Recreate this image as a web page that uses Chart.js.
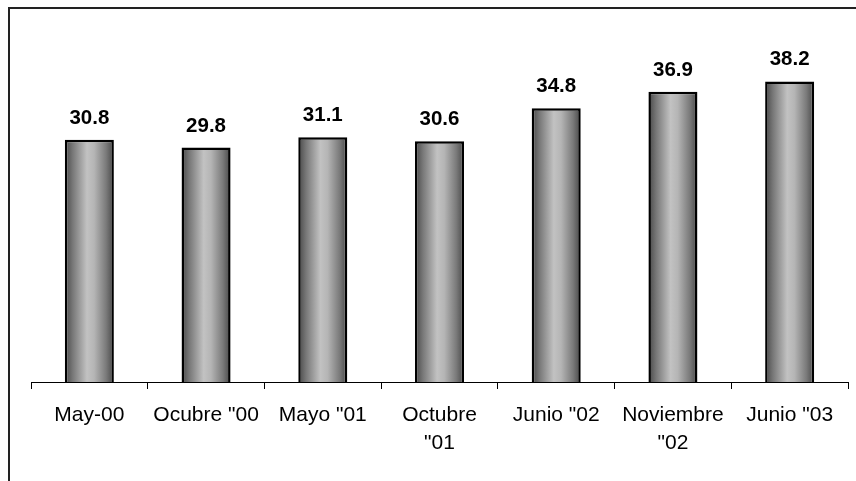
<!DOCTYPE html>
<html>
<head>
<meta charset="utf-8">
<script src="https://cdn.jsdelivr.net/npm/chart.js@4"></script>
<style>
  html, body { margin: 0; padding: 0; background: #fff; }
  #wrap { width: 856px; height: 481px; }
</style>
</head>
<body>
<div id="wrap"><canvas id="chart" width="856" height="481"></canvas></div>
<script>
// datos
const categories = ['May-00', 'Ocubre "00', 'Mayo "01', ['Octubre', '"01'], 'Junio "02', ['Noviembre', '"02'], 'Junio "03'];
const values = [30.8, 29.8, 31.1, 30.6, 34.8, 36.9, 38.2];

// marco exterior (solo se ve arriba e izquierda)
const framePlugin = {
    id: 'frame',
    beforeDraw(chart) {
        const ctx = chart.ctx;
        ctx.save();
        ctx.strokeStyle = '#222';
        ctx.lineWidth = 2;
        ctx.strokeRect(9, 8, 900, 600);
        ctx.restore();
    }
};

// etiquetas de valor sobre las barras
const valueLabels = {
    id: 'valueLabels',
    afterDatasetsDraw(chart) {
        const ctx = chart.ctx;
        const meta = chart.getDatasetMeta(0);
        ctx.save();
        ctx.font = 'bold 20.5px "Liberation Sans", Arial, sans-serif';
        ctx.fillStyle = '#000';
        ctx.textAlign = 'center';
        ctx.textBaseline = 'alphabetic';
        meta.data.forEach((bar, i) => {
            ctx.fillText(values[i].toFixed(1), bar.x, bar.y - 16);
        });
        ctx.restore();
    }
};

function barGradient(context) {
    const chart = context.chart;
    if (!chart.chartArea || !chart.scales.x) return '#999';
    const cx = chart.scales.x.getPixelForValue(context.dataIndex);
    const half = 24;
    const g = chart.ctx.createLinearGradient(cx - half, 0, cx + half, 0);
    g.addColorStop(0, '#4a4a4a');
    g.addColorStop(0.15, '#777');
    g.addColorStop(0.45, '#c2c2c2');
    g.addColorStop(0.6, '#b5b5b5');
    g.addColorStop(0.85, '#7a7a7a');
    g.addColorStop(1, '#4a4a4a');
    return g;
}

new Chart(document.getElementById('chart'), {
    type: 'bar',
    data: {
        labels: categories,
        datasets: [{
            data: values,
            backgroundColor: barGradient,
            borderColor: '#000',
            borderWidth: 2.5,
            borderSkipped: 'bottom',
            barPercentage: 0.42,
            categoryPercentage: 1
        }]
    },
    options: {
        responsive: false,
        animation: false,
        layout: { padding: { top: 28, left: 31, right: 8, bottom: 0 } },
        plugins: {
            legend: { display: false },
            tooltip: { enabled: false }
        },
        scales: {
            x: {
                grid: {
                    offset: true,
                    drawOnChartArea: false,
                    drawTicks: true,
                    tickLength: 7,
                    color: '#000'
                },
                border: { color: '#000', width: 1 },
                ticks: {
                    color: '#000',
                    padding: 13,
                    maxRotation: 0,
                    autoSkip: false,
                    font: { family: '"Liberation Sans", Arial, sans-serif', size: 21, lineHeight: 1.3 }
                },
                afterFit(scale) { scale.height = 99; }
            },
            y: {
                display: false,
                min: 0,
                max: 45
            }
        }
    },
    plugins: [framePlugin, valueLabels]
});
</script>
</body>
</html>
